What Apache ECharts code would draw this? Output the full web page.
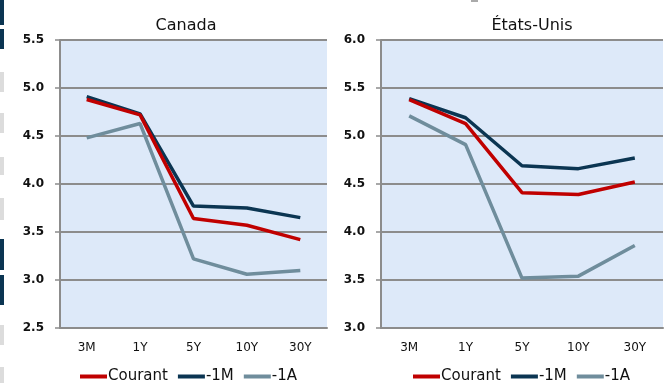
<!DOCTYPE html>
<html>
<head>
<meta charset="utf-8">
<script src="https://cdn.jsdelivr.net/npm/echarts@6/dist/echarts.min.js"></script>
<style>
  html, body { margin: 0; padding: 0; background: #ffffff; }
  #chart { width: 666px; height: 383px; }
</style>
</head>
<body>
<div id="chart"></div>
<script>
// Maturities on the curve
const maturities = ['3M', '1Y', '5Y', '10Y', '30Y'];

// Canada yields (%)
const caCourant = [4.88, 4.72, 3.64, 3.57, 3.42];
const caMinus1M = [4.91, 4.73, 3.77, 3.75, 3.65];
const caMinus1A = [4.48, 4.63, 3.22, 3.06, 3.10];

// United States yields (%)
const usCourant = [5.38, 5.13, 4.41, 4.39, 4.52];
const usMinus1M = [5.39, 5.19, 4.69, 4.66, 4.77];
const usMinus1A = [5.21, 4.91, 3.52, 3.54, 3.86];

const seriesNames = ['Courant', '-1M', '-1A'];
const colors = ['#C00000', '#0B3552', '#6F8D9C'];

const FONT = 'DejaVu Sans';

function yAxis(gridIndex, min, max) {
  return {
    type: 'value', gridIndex, min, max, interval: 0.5,
    axisLine: { show: true, lineStyle: { color: '#8C8C8C', width: 2 } },
    axisTick: { show: true, inside: false, length: 5, lineStyle: { color: '#8C8C8C', width: 1.5 } },
    axisLabel: {
      margin: 16, color: '#111', fontFamily: FONT, fontSize: 12, fontWeight: 'bold',
      formatter: v => v.toFixed(1)
    },
    splitLine: { show: true, lineStyle: { color: '#8C8C8C', width: 2 } }
  };
}

function xAxis(gridIndex) {
  return {
    type: 'category', gridIndex, data: maturities, boundaryGap: true,
    axisLine: { show: true, lineStyle: { color: '#8C8C8C', width: 2 } },
    axisTick: { show: false },
    axisLabel: { margin: 14, color: '#111', fontFamily: FONT, fontSize: 12 }
  };
}

function lineSeries(name, data, idx, axisIdx) {
  return {
    name, type: 'line', data,
    xAxisIndex: axisIdx, yAxisIndex: axisIdx,
    symbol: 'none', smooth: false,
    lineStyle: { color: colors[idx], width: 3.5 },
    itemStyle: { color: colors[idx] },
    z: 10 - idx
  };
}

function legend(left) {
  return {
    left, top: 364, itemWidth: 27, itemHeight: 4, itemGap: 10, icon: 'rect',
    data: seriesNames,
    textStyle: { fontFamily: FONT, fontSize: 15, color: '#111', padding: [0, 0, 0, -4] }
  };
}

// Decorative strip along the left edge
const stripBlocks = [
  [0, 25, '#0B3552'], [29, 20, '#0B3552'],
  [72, 20, '#DCDCDC'], [113, 20, '#DCDCDC'], [157, 18, '#DCDCDC'], [198, 22, '#DCDCDC'],
  [239, 31, '#0B3552'], [275, 30, '#0B3552'],
  [325, 20, '#DCDCDC'], [367, 16, '#DCDCDC']
];

const chart = echarts.init(document.getElementById('chart'), null, { renderer: 'canvas' });
chart.setOption({
  animation: false,
  backgroundColor: '#ffffff',
  title: [
    { text: 'Canada', left: 181, top: 13, textAlign: 'center',
      textStyle: { fontFamily: FONT, fontSize: 16, fontWeight: 'normal', color: '#111' } },
    { text: 'États-Unis', left: 527, top: 13, textAlign: 'center',
      textStyle: { fontFamily: FONT, fontSize: 16, fontWeight: 'normal', color: '#111' } }
  ],
  grid: [
    { left: 60, top: 40, width: 267, height: 288, show: true, backgroundColor: '#DDE9F9', borderWidth: 0 },
    { left: 381, top: 40, width: 282, height: 288, show: true, backgroundColor: '#DDE9F9', borderWidth: 0 }
  ],
  xAxis: [xAxis(0), xAxis(1)],
  yAxis: [yAxis(0, 2.5, 5.5), yAxis(1, 3.0, 6.0)],
  legend: [legend(75), legend(408)],
  series: [
    lineSeries('-1A', caMinus1A, 2, 0),
    lineSeries('-1M', caMinus1M, 1, 0),
    lineSeries('Courant', caCourant, 0, 0),
    lineSeries('-1A', usMinus1A, 2, 1),
    lineSeries('-1M', usMinus1M, 1, 1),
    lineSeries('Courant', usCourant, 0, 1)
  ],
  graphic: stripBlocks.map(([y, h, c]) => ({
    type: 'rect', shape: { x: 0, y, width: 4, height: h }, style: { fill: c }, silent: true
  })).concat([
    { type: 'rect', shape: { x: 471, y: 0, width: 7, height: 2 }, style: { fill: '#AAAAAA' }, silent: true }
  ])
});
</script>
</body>
</html>
